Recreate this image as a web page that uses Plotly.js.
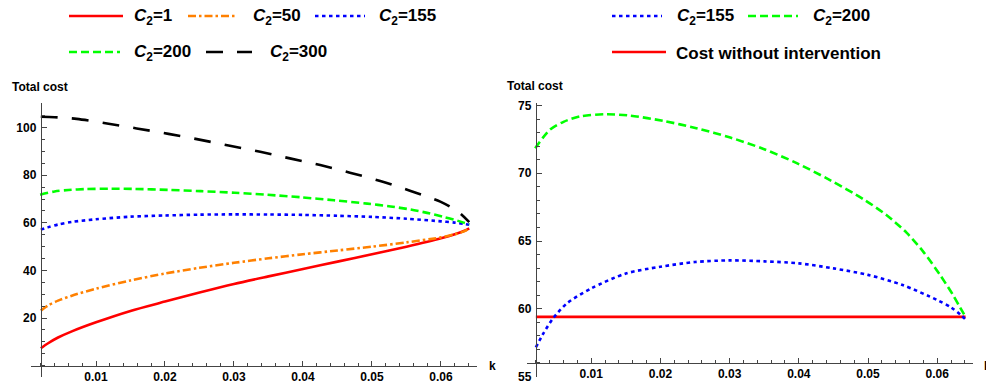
<!DOCTYPE html>
<html><head><meta charset="utf-8">
<script src="https://cdn.plot.ly/plotly-3.0.1.min.js"></script>
<style>html,body{margin:0;padding:0;background:#fff}#chart{width:986px;height:383px}</style>
</head><body><div id="chart"></div>
<script>
// ---------- data ----------
const kRed   = [0.002,0.003,0.0045,0.0065,0.010,0.015,0.020,0.025,0.030,0.035,0.040,0.045,0.050,0.055,0.060,0.062,0.0635,0.0641];
const costC1 = [7.3,9.3,11.8,14.4,18.2,23.0,26.9,30.7,34.3,37.5,40.6,43.7,46.8,50.0,53.5,55.2,56.8,57.7];

const kOrange = [0.002,0.003,0.0045,0.0065,0.010,0.015,0.020,0.025,0.030,0.035,0.040,0.045,0.050,0.055,0.060,0.062,0.0635,0.0641];
const costC50 = [23.1,25.2,27.3,29.4,32.3,35.8,38.7,41.1,43.2,45.1,46.8,48.4,50.0,51.8,53.9,55.2,56.6,57.8];

const kBlue    = [0.002,0.003,0.0045,0.0065,0.010,0.015,0.020,0.025,0.030,0.035,0.040,0.045,0.050,0.055,0.060,0.062,0.0635,0.0641];
const costC155 = [57.15,58.1,59.3,60.4,61.5,62.6,63.1,63.45,63.57,63.5,63.35,62.98,62.5,61.75,60.64,60.1,59.5,59.2];

const kGreen   = [0.0019,0.004,0.006,0.0084,0.0122,0.0156,0.0204,0.0252,0.0301,0.0349,0.0397,0.0445,0.0493,0.0527,0.0556,0.058,0.0604,0.0623,0.0633,0.0641];
const costC200 = [71.85,73.2,73.8,74.2,74.36,74.26,73.87,73.33,72.64,71.8,70.75,69.5,68.1,66.9,65.6,64.2,62.5,61.0,60.1,59.4];

const kBlack   = [0.002,0.004,0.0072,0.0116,0.0159,0.0205,0.0248,0.0294,0.0338,0.0381,0.0425,0.0468,0.0512,0.0555,0.0599,0.0625,0.0641];
const costC300 = [104.6,104.4,103.7,101.8,99.7,97.4,95.1,92.4,89.9,87.1,84.3,81.1,77.6,73.5,68.9,64.6,60.3];

const kNoInt = [0.002,0.0641];
const costNoIntervention = [59.4,59.4];

const xTicks = [0.01,0.02,0.03,0.04,0.05,0.06];
const xTickText = ['0.01','0.02','0.03','0.04','0.05','0.06'];
const yTicksL = [20,40,60,80,100];
const yTicksR = [55,60,65,70,75];

// ---------- layout geometry ----------
const W = 986, H = 383;
const fam = 'Liberation Sans, Arial, sans-serif';
const axCol = '#444';
const pxX = p => p / W;
const pxY = p => 1 - p / H;

const L = {xd:[pxX(31),pxX(477)], xr:[0.00058,0.06522], yd:[pxY(377),pxY(103)], yr:[-4.79,110.38], yAt:0.002, xAt:0};
const R = {xd:[pxX(527),pxX(973)], xr:[0.00072,0.06517], yd:[pxY(377),pxY(103)], yr:[54.96,75.19], yAt:0.002, xAt:56};
const posY = P => P.xd[0] + (P.yAt-P.xr[0])/(P.xr[1]-P.xr[0])*(P.xd[1]-P.xd[0]);
const posX = P => P.yd[0] + (P.xAt-P.yr[0])/(P.yr[1]-P.yr[0])*(P.yd[1]-P.yd[0]);

const tickFont = {family:fam, size:12, color:'#000', weight:'bold'};
function xAxis(P){
  return {domain:P.xd, range:P.xr, anchor:'free', position:posX(P), side:'bottom',
    showgrid:false, zeroline:false, showline:true, linecolor:axCol, linewidth:1,
    tickmode:'array', tickvals:xTicks, ticktext:xTickText, ticks:'inside', ticklen:5, tickcolor:axCol,
    tickfont:tickFont, ticklabelstandoff:0, ticklabeloverflow:'allow',
    minor:{ticks:'inside', ticklen:3, tickcolor:axCol, tickmode:'linear', tick0:0, dtick:0.002, showgrid:false}};
}
function yAxis(P, tv, md){
  return {domain:P.yd, range:P.yr, anchor:'free', position:posY(P), side:'left',
    showgrid:false, zeroline:false, showline:true, linecolor:axCol, linewidth:1,
    tickmode:'array', tickvals:tv, ticktext:tv.map(String), ticks:'inside', ticklen:5, tickcolor:axCol,
    tickfont:tickFont, ticklabelstandoff:2, ticklabeloverflow:'allow',
    minor:{ticks:'inside', ticklen:3, tickcolor:axCol, tickmode:'linear', tick0:0, dtick:md, showgrid:false}};
}

const RED='#ff0000', ORANGE='#ff8000', BLUE='#0000ff', GREEN='#00ff00', BLACK='#000000';
const dashOrange='8px,3px,2.5px,3px', dotBlue='3.5px,3.5px', dashGreen='8px,4px', dashBlack='17px,14px';
const lw = 2.6;

const traces = [
  {x:kRed, y:costC1, xaxis:'x', yaxis:'y', mode:'lines', line:{color:RED, width:lw, shape:'spline', smoothing:0.8}, name:'C2=1'},
  {x:kOrange, y:costC50, xaxis:'x', yaxis:'y', mode:'lines', line:{color:ORANGE, width:lw, dash:dashOrange, shape:'spline', smoothing:0.8}, name:'C2=50'},
  {x:kBlue, y:costC155, xaxis:'x', yaxis:'y', mode:'lines', line:{color:BLUE, width:lw, dash:dotBlue, shape:'spline', smoothing:0.8}, name:'C2=155'},
  {x:kGreen, y:costC200, xaxis:'x', yaxis:'y', mode:'lines', line:{color:GREEN, width:lw, dash:dashGreen, shape:'spline', smoothing:0.8}, name:'C2=200'},
  {x:kBlack, y:costC300, xaxis:'x', yaxis:'y', mode:'lines', line:{color:BLACK, width:lw, dash:dashBlack, shape:'spline', smoothing:0.8}, name:'C2=300'},
  {x:kNoInt, y:costNoIntervention, xaxis:'x2', yaxis:'y2', mode:'lines', line:{color:RED, width:lw}, name:'Cost without intervention'},
  {x:kBlue, y:costC155, xaxis:'x2', yaxis:'y2', mode:'lines', line:{color:BLUE, width:lw, dash:dotBlue, shape:'spline', smoothing:0.8}, name:'C2=155'},
  {x:kGreen, y:costC200, xaxis:'x2', yaxis:'y2', mode:'lines', line:{color:GREEN, width:lw, dash:dashGreen, shape:'spline', smoothing:0.8}, name:'C2=200'}
];

// ---------- hand-built legends ----------
const legendItems = [
  {x0:69,x1:123,y:16,color:RED,dash:'solid',tx:133,text:'<b><i>C</i><sub>2</sub>=1</b>'},
  {x0:188,x1:237,y:16,color:ORANGE,dash:dashOrange,tx:252,text:'<b><i>C</i><sub>2</sub>=50</b>'},
  {x0:315,x1:365,y:16,color:BLUE,dash:dotBlue,tx:378,text:'<b><i>C</i><sub>2</sub>=155</b>'},
  {x0:69,x1:120,y:52,color:GREEN,dash:dashGreen,tx:133,text:'<b><i>C</i><sub>2</sub>=200</b>'},
  {x0:206,x1:252,y:52,color:BLACK,dash:dashBlack,tx:269,text:'<b><i>C</i><sub>2</sub>=300</b>'},
  {x0:612,x1:662,y:16,color:BLUE,dash:dotBlue,tx:676,text:'<b><i>C</i><sub>2</sub>=155</b>'},
  {x0:748,x1:798,y:16,color:GREEN,dash:dashGreen,tx:812,text:'<b><i>C</i><sub>2</sub>=200</b>'},
  {x0:612,x1:666,y:52,color:RED,dash:'solid',tx:675,text:'<b>Cost without intervention</b>'}
];
const shapes = legendItems.map(it => ({type:'line', xref:'paper', yref:'paper',
  x0:pxX(it.x0), x1:pxX(it.x1), y0:pxY(it.y), y1:pxY(it.y), line:{color:it.color, width:lw, dash:it.dash}}));
const annotations = legendItems.map(it => ({xref:'paper', yref:'paper', x:pxX(it.tx-1), y:pxY(it.y+1.5),
  xanchor:'left', yanchor:'middle', showarrow:false, text:it.text, font:{family:fam, size:17, color:'#000'}}));

annotations.push(
  {xref:'paper', yref:'paper', x:pxX(10), y:pxY(87), xanchor:'left', yanchor:'middle', showarrow:false,
   text:'<b>Total cost</b>', font:{family:fam, size:12, color:'#000'}},
  {xref:'paper', yref:'paper', x:pxX(505), y:pxY(86), xanchor:'left', yanchor:'middle', showarrow:false,
   text:'<b>Total cost</b>', font:{family:fam, size:12, color:'#000'}},
  {xref:'paper', yref:'paper', x:pxX(487), y:pxY(366), xanchor:'left', yanchor:'middle', showarrow:false,
   text:'<b>k</b>', font:{family:fam, size:12, color:'#000'}},
  {xref:'paper', yref:'paper', x:pxX(982), y:pxY(366), xanchor:'left', yanchor:'middle', showarrow:false,
   text:'<b>k</b>', font:{family:fam, size:12, color:'#000'}}
);

const layout = {
  width:W, height:H, margin:{l:0,r:0,t:0,b:0}, showlegend:false,
  paper_bgcolor:'#fff', plot_bgcolor:'rgba(0,0,0,0)',
  font:{family:fam},
  xaxis:xAxis(L), yaxis:yAxis(L, yTicksL, 5),
  xaxis2:xAxis(R), yaxis2:yAxis(R, yTicksR, 1),
  shapes:shapes, annotations:annotations
};
Plotly.newPlot('chart', traces, layout, {staticPlot:true, displayModeBar:false});
</script></body></html>
